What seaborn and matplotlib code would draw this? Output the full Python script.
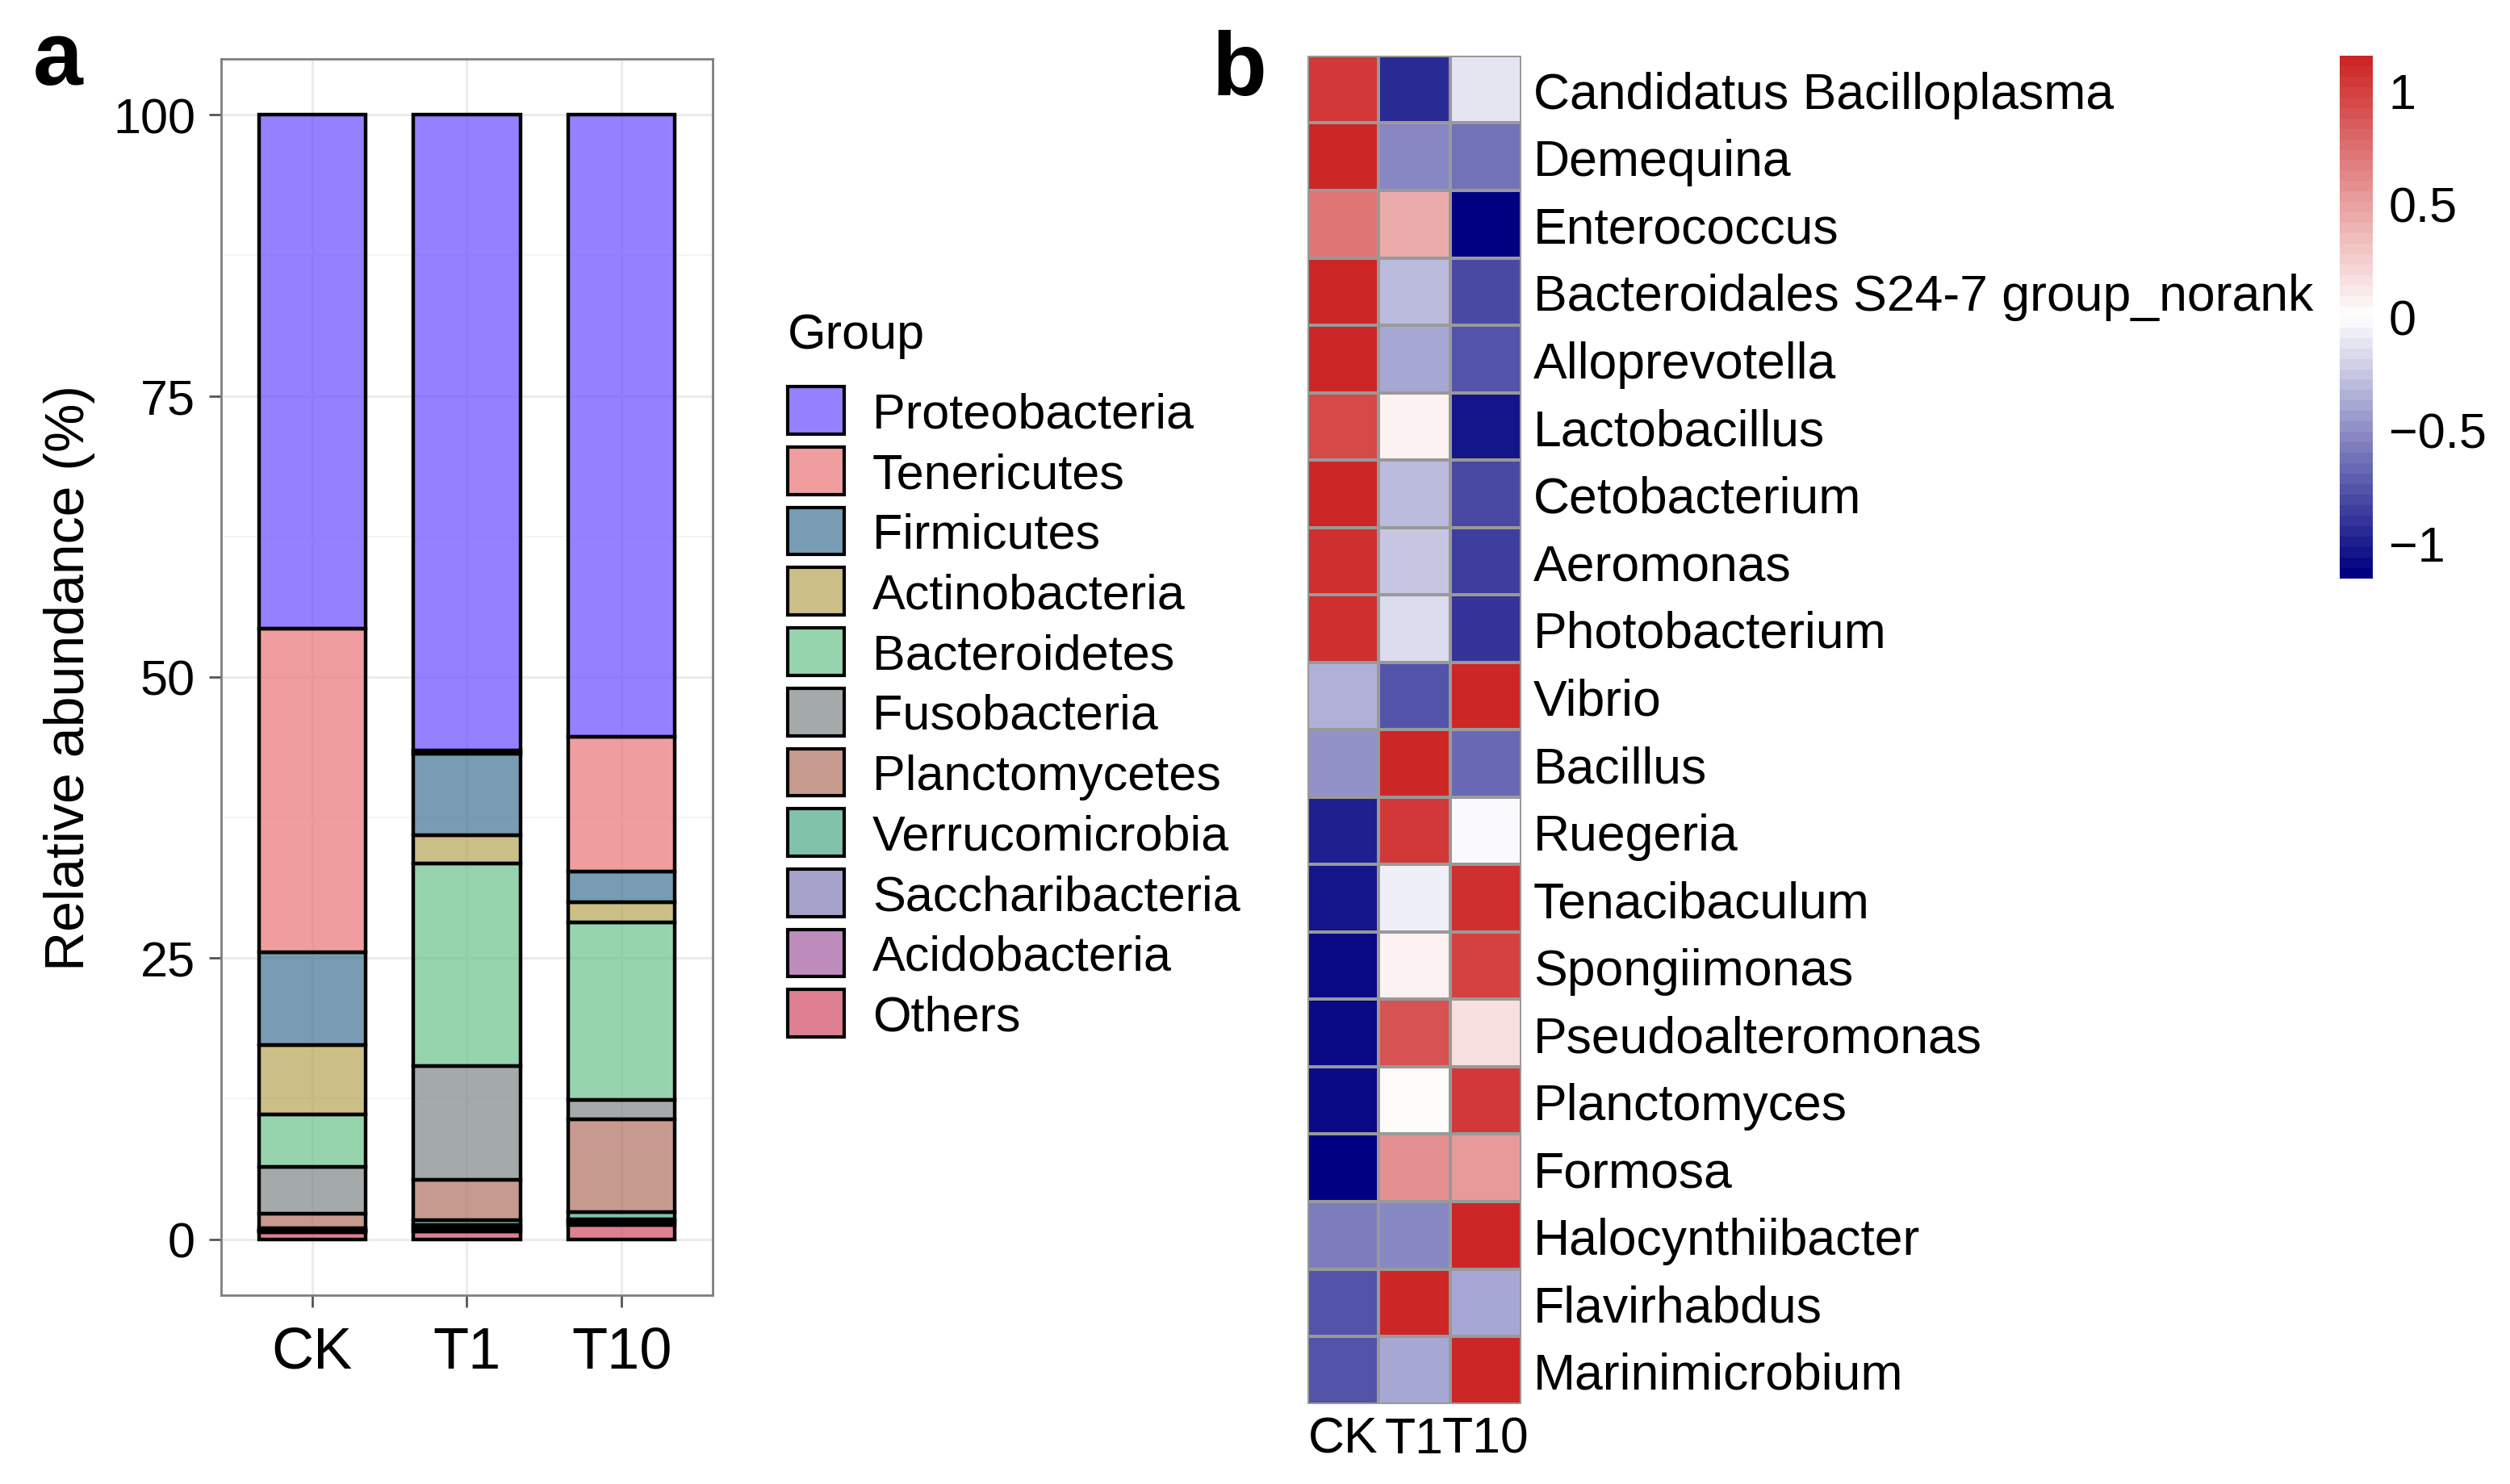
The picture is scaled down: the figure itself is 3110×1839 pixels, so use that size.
import numpy as np
import pandas as pd
import matplotlib
matplotlib.use("Agg")
import matplotlib.pyplot as plt
import seaborn as sns
from matplotlib.colors import LinearSegmentedColormap, to_rgba
from matplotlib.patches import Patch

# ==============================================
# datos del panel a: abundancia relativa (%) por filo

muestras = ["CK", "T1", "T10"]
filos = ["Proteobacteria", "Tenericutes", "Firmicutes", "Actinobacteria",
         "Bacteroidetes", "Fusobacteria", "Planctomycetes", "Verrucomicrobia",
         "Saccharibacteria", "Acidobacteria", "Others"]
colores_filo = ["#694CFF", "#EA7476", "#3E7294", "#B5A455", "#69C38B", "#7E8787",
                "#B0705E", "#4CA986", "#807CB6", "#A25BA2", "#D04A62"]

abund_ck = [45.7, 28.8, 8.2, 6.2, 4.7, 4.1, 1.3, 0.2, 0.1, 0.1, 0.6]
abund_t1 = [56.5, 0.3, 7.3, 2.5, 18.0, 10.1, 3.6, 0.4, 0.3, 0.3, 0.7]
abund_t10 = [55.3, 12.0, 2.7, 1.8, 15.8, 1.7, 8.3, 0.6, 0.25, 0.25, 1.3]

# ==============================================
# datos del panel b: z-score por fila (generos)

generos = ["Candidatus Bacilloplasma", "Demequina", "Enterococcus",
           "Bacteroidales S24-7 group_norank", "Alloprevotella", "Lactobacillus",
           "Cetobacterium", "Aeromonas", "Photobacterium", "Vibrio", "Bacillus",
           "Ruegeria", "Tenacibaculum", "Spongiimonas", "Pseudoalteromonas",
           "Planctomyces", "Formosa", "Halocynthiibacter", "Flavirhabdus",
           "Marinimicrobium"]
z_ck = [1.02, 1.15, 0.70, 1.13, 1.12, 0.95, 1.13, 1.10, 1.08, -0.35,
        -0.50, -1.00, -1.03, -1.08, -1.10, -1.08, -1.15, -0.60, -0.75, -0.75]
z_t1 = [-0.95, -0.52, 0.45, -0.30, -0.38, 0.08, -0.30, -0.25, -0.18, -0.78,
        1.15, 1.02, -0.08, 0.05, 0.88, 0.02, 0.60, -0.55, 1.13, -0.40]
z_t10 = [-0.10, -0.63, -1.15, -0.83, -0.74, -1.03, -0.83, -0.85, -0.90, 1.13,
         -0.65, -0.03, 1.08, 1.00, 0.15, 1.03, 0.55, 1.15, -0.38, 1.15]

# ==============================================
# estilo general

sns.set_style("white")
plt.rcParams["font.family"] = ["Liberation Sans", "DejaVu Sans"]
plt.rcParams["axes.unicode_minus"] = True
plt.rcParams["text.color"] = "black"
plt.rcParams["axes.labelcolor"] = "black"
plt.rcParams["xtick.labelcolor"] = "black"
plt.rcParams["ytick.labelcolor"] = "black"

fig = plt.figure(figsize=(15.55, 9.2), dpi=200)

# ==============================================
# panel a: barras apiladas

filas = []
for m, vals in zip(muestras, [abund_ck, abund_t1, abund_t10]):
    for f, v in zip(filos, vals):
        filas.append({"Muestra": m, "Filo": f, "Abundancia": v})
df_abund = pd.DataFrame(filas)

paleta = dict(zip(filos, colores_filo))

ax_bar = fig.add_axes([0.088, 0.127, 0.196, 0.833])
ax_bar.set_axisbelow(True)
sns.histplot(data=df_abund, x="Muestra", hue="Filo", weights="Abundancia",
             hue_order=filos, palette=paleta, multiple="stack", discrete=True,
             shrink=0.69, alpha=0.7, edgecolor="black", linewidth=1.6,
             legend=False, ax=ax_bar)

ax_bar.set_xlim(-0.59, 2.59)
ax_bar.set_ylim(-5, 105)
ax_bar.set_yticks([0, 25, 50, 75, 100])
ax_bar.set_yticks([12.5, 37.5, 62.5, 87.5], minor=True)
ax_bar.set_xticks([0, 1, 2])
ax_bar.set_xticklabels(muestras)
ax_bar.grid(True, which="major", color="#EBEBEB", linewidth=1.1)
ax_bar.grid(True, which="minor", axis="y", color="#F2F2F2", linewidth=0.6)
for s in ax_bar.spines.values():
    s.set_color("#7F7F7F")
    s.set_linewidth(1.0)
ax_bar.tick_params(axis="y", which="major", length=5.4, width=1.0, color="#555555",
                   labelsize=22, pad=6, left=True)
ax_bar.tick_params(axis="x", which="major", length=5.4, width=1.0, color="#555555",
                   labelsize=26, pad=8, bottom=True)
ax_bar.tick_params(which="minor", length=0)
ax_bar.set_xlabel("")
ax_bar.set_ylabel("Relative abundance (%)", fontsize=24.5, labelpad=8)

# leyenda (titulo aparte para controlar la separacion)
fig.text(0.3138, 0.7737, "Group", fontsize=22, va="center", ha="left")
handles = [Patch(facecolor=to_rgba(c, 0.7), edgecolor="black", linewidth=1.5)
           for c in colores_filo]
fig.legend(handles, filos, loc="upper left", bbox_to_anchor=(0.3138, 0.739),
           frameon=False, fontsize=22, handlelength=1.14, handleheight=1.1,
           labelspacing=0.19, handletextpad=0.58, borderpad=0, borderaxespad=0)

# ==============================================
# panel b: heatmap

df_z = pd.DataFrame({"CK": z_ck, "T1": z_t1, "T10": z_t10}, index=generos)

cmap = LinearSegmentedColormap.from_list("pheat", ["navy", "white", "#CD2626"], N=50)
lim = 2 / np.sqrt(3)

ax_hm = fig.add_axes([0.521, 0.054, 0.085, 0.908])
cax = fig.add_axes([0.932, 0.610, 0.0134, 0.352])
sns.heatmap(df_z, ax=ax_hm, cmap=cmap, vmin=-lim, vmax=lim,
            linewidths=0.8, linecolor="#999999", cbar_ax=cax,
            cbar_kws={"ticks": [-1, -0.5, 0, 0.5, 1]},
            xticklabels=muestras, yticklabels=generos)

ax_hm.yaxis.tick_right()
ax_hm.tick_params(axis="y", length=0, pad=5.5, labelsize=22.5, labelrotation=0)
ax_hm.tick_params(axis="x", length=0, pad=5, labelsize=22.5, labelrotation=0)
for lab in ax_hm.get_yticklabels():
    lab.set_ha("left")
ax_hm.set_xlabel("")
ax_hm.set_ylabel("")

cbar = ax_hm.collections[0].colorbar
cbar.outline.set_visible(False)
cbar.ax.set_yticklabels(["\u22121", "\u22120.5", "0", "0.5", "1"])
cax.tick_params(length=0, pad=7, labelsize=22)

# etiquetas de panel
fig.text(0.013, 0.943, "a", fontsize=40, fontweight="bold")
fig.text(0.483, 0.936, "b", fontsize=40, fontweight="bold")

fig.savefig("out.png", dpi=200)
